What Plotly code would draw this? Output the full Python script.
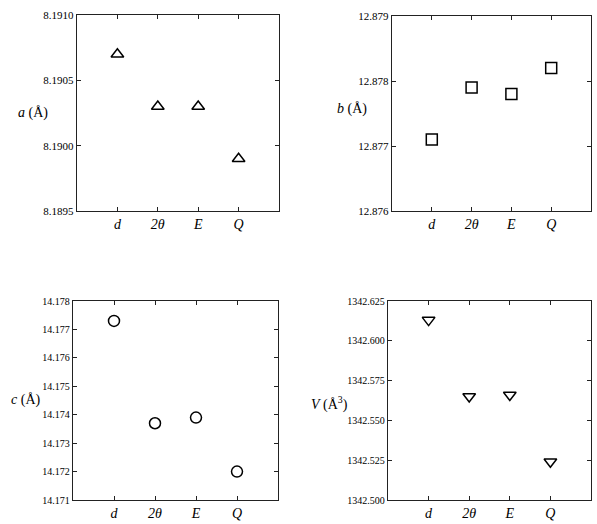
import plotly.graph_objects as go

methods = ["d", "2θ", "E", "Q"]
method_labels = ["<i>d</i>", "<i>2θ</i>", "<i>E</i>", "<i>Q</i>"]
a_vals = [8.1907, 8.1903, 8.1903, 8.1899]
b_vals = [12.8771, 12.8779, 12.8778, 12.8782]
c_vals = [14.1773, 14.1737, 14.1739, 14.1720]
V_vals = [1342.613, 1342.565, 1342.566, 1342.524]

a_ticks = [8.1895, 8.1900, 8.1905, 8.1910]
b_ticks = [12.876, 12.877, 12.878, 12.879]
c_ticks = [14.171, 14.172, 14.173, 14.174, 14.175, 14.176, 14.177, 14.178]
V_ticks = [1342.500, 1342.525, 1342.550, 1342.575, 1342.600, 1342.625]

W, H = 597, 524
FONT = "Liberation Serif"

panels = [
    dict(vals=a_vals, ticks=a_ticks, fmt=".4f", sym="triangle-up-open", size=11,
         box=(77, 279, 15, 211), label="<i>a</i> (Å)", lab=(33, 113), tfs=11),
    dict(vals=b_vals, ticks=b_ticks, fmt=".3f", sym="square-open", size=11,
         box=(392, 591, 16, 211), label="<i>b</i> (Å)", lab=(352, 109), tfs=11),
    dict(vals=c_vals, ticks=c_ticks, fmt=".3f", sym="circle-open", size=11,
         box=(73, 278, 301, 500), label="<i>c</i> (Å)", lab=(25, 400), tfs=10),
    dict(vals=V_vals, ticks=V_ticks, fmt=".3f", sym="triangle-down-open", size=11,
         box=(388, 591, 301, 500), label="<i>V</i> (Å<sup>3</sup>)", lab=(330, 403), tfs=10),
]

fig = go.Figure()
xpos = [1, 2, 3, 4]
annotations = []
for i, p in enumerate(panels):
    n = "" if i == 0 else str(i + 1)
    fig.add_trace(go.Scatter(
        x=xpos, y=p["vals"], mode="markers",
        marker=dict(symbol=p["sym"], size=p["size"], color="black",
                    line=dict(width=1.5, color="black")),
        xaxis="x" + n, yaxis="y" + n, showlegend=False))
    x0, x1, y0, y1 = p["box"]
    fig.layout["xaxis" + n] = dict(
        domain=[x0 / W, x1 / W], range=[0, 5], anchor="y" + n,
        tickvals=xpos, ticktext=method_labels, ticks="inside", ticklen=4,
        mirror="ticks", showline=True, linecolor="#222", linewidth=1.4,
        tickcolor="#222", showgrid=False, zeroline=False, automargin=False,
        tickfont=dict(family=FONT, size=14, color="black"), fixedrange=True)
    fig.layout["yaxis" + n] = dict(
        domain=[1 - y1 / H, 1 - y0 / H], range=[p["ticks"][0], p["ticks"][-1]],
        anchor="x" + n, tickvals=p["ticks"],
        ticktext=[format(t, p["fmt"]) for t in p["ticks"]],
        ticks="inside", ticklen=4, mirror="ticks", showline=True,
        linecolor="#222", linewidth=1.4, tickcolor="#222",
        showgrid=False, zeroline=False,
        automargin=False, tickfont=dict(family=FONT, size=p["tfs"], color="black"),
        fixedrange=True)
    annotations.append(dict(
        text=p["label"], x=p["lab"][0] / W, y=1 - p["lab"][1] / H,
        xref="paper", yref="paper", showarrow=False, xanchor="center",
        yanchor="middle", font=dict(family=FONT, size=14, color="black")))

fig.update_layout(
    width=W, height=H, margin=dict(l=0, r=0, t=0, b=0),
    paper_bgcolor="white", plot_bgcolor="white",
    annotations=annotations, font=dict(family=FONT, color="black"))

fig.write_html("out.html")
